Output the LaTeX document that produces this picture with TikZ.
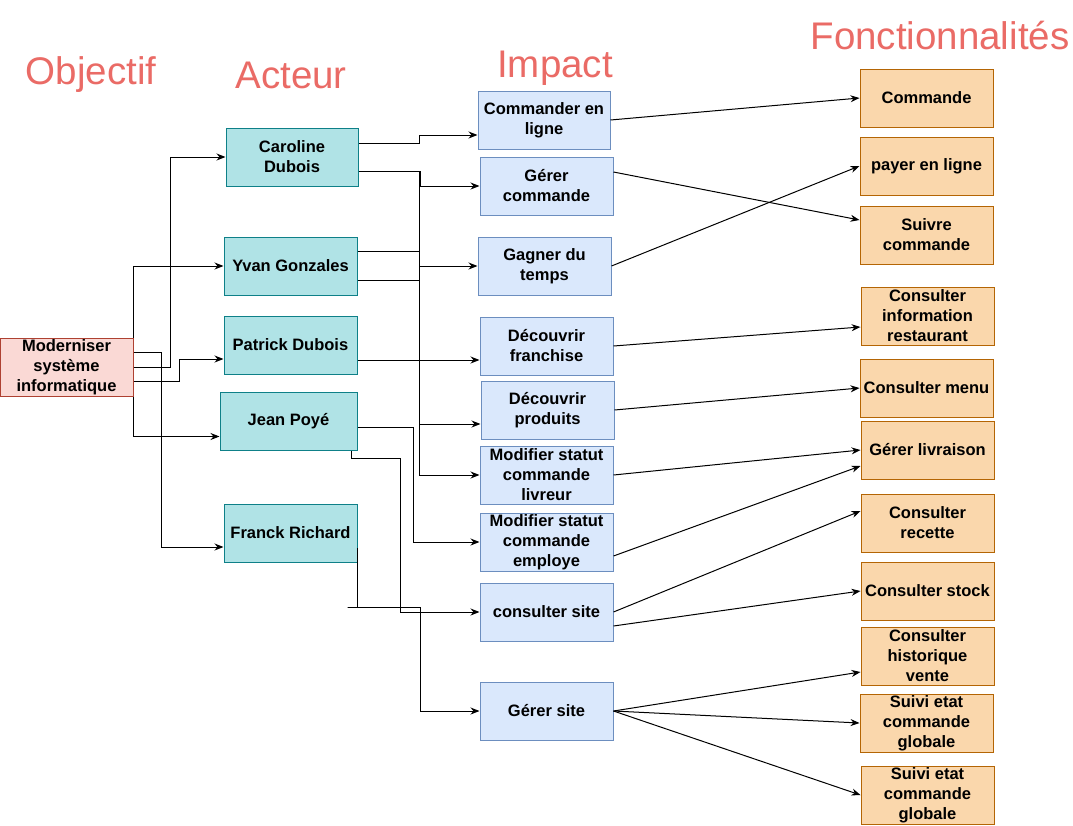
\documentclass[tikz,border=0pt]{standalone}
\usepackage{fontspec}
\setmainfont{Liberation Sans}
\usetikzlibrary{arrows.meta}

\definecolor{objfill}{HTML}{FAD9D5}
\definecolor{objline}{HTML}{AE4132}
\definecolor{actfill}{HTML}{B0E3E6}
\definecolor{actline}{HTML}{0E8088}
\definecolor{impfill}{HTML}{DAE8FC}
\definecolor{impline}{HTML}{6C8EBF}
\definecolor{fctfill}{HTML}{FAD7AC}
\definecolor{fctline}{HTML}{B46504}
\definecolor{titrered}{HTML}{EA6B66}

\tikzset{
  boite/.style={draw, line width=1pt, inner sep=0pt, align=center,
    minimum width=133pt, minimum height=58pt,
    font=\bfseries\fontsize{16.5}{20}\selectfont},
  objbox/.style={boite, fill=objfill, draw=objline},
  actbox/.style={boite, fill=actfill, draw=actline},
  impbox/.style={boite, fill=impfill, draw=impline},
  fctbox/.style={boite, fill=fctfill, draw=fctline},
  titre/.style={text=titrered, font=\fontsize{38.5}{44}\selectfont},
  lien/.style={->, line width=1pt}
}

\begin{document}
\begin{tikzpicture}[x=1pt, y=-1pt, >={Stealth[length=9pt,width=7pt]}]
  \useasboundingbox (0,0) rectangle (1073,825);

  % titres
  \node[titre] (tobj) at (91,75) {Objectif};
  \node[titre] (tact) at (291,75) {Acteur};
  \node[titre] (timp) at (555,68) {Impact};
  \node[titre] (tfct) at (940,36) {Fonctionnalités};

  % objectif
  \node[objbox] (obj) at (66.5,367) {Moderniser\\système\\informatique};

  % acteurs
  \node[actbox, minimum width=132pt] (caroline) at (292,157) {Caroline\\Dubois};
  \node[actbox] (yvan) at (290.5,266) {Yvan Gonzales};
  \node[actbox] (patrick) at (290.5,345) {Patrick Dubois};
  \node[actbox, minimum width=137pt] (jean) at (288.5,421.5) {Jean Poyé};
  \node[actbox] (franck) at (290.5,533) {Franck Richard};

  % impacts
  \node[impbox, minimum width=132pt] (cmdligne) at (544,120) {Commander en\\ligne};
  \node[impbox] (gerercmd) at (546.5,186) {Gérer\\commande};
  \node[impbox] (gagner) at (544.5,266) {Gagner du\\temps};
  \node[impbox] (franchise) at (546.5,346) {Découvrir\\franchise};
  \node[impbox] (produits) at (547.5,410) {Découvrir\\produits};
  \node[impbox] (livreur) at (546.5,475) {Modifier statut\\commande\\livreur};
  \node[impbox] (employe) at (546.5,542) {Modifier statut\\commande\\employe};
  \node[impbox] (consulter) at (546.5,612) {consulter site};
  \node[impbox] (gerersite) at (546.5,711) {Gérer site};

  % fonctionnalites
  \node[fctbox] (commande) at (926.5,98) {Commande};
  \node[fctbox] (payer) at (926.5,166) {payer en ligne};
  \node[fctbox] (suivre) at (926.5,235) {Suivre\\commande};
  \node[fctbox] (info) at (927.5,316) {Consulter\\information\\restaurant};
  \node[fctbox] (menu) at (926.5,388) {Consulter menu};
  \node[fctbox] (livraison) at (927.5,450) {Gérer livraison};
  \node[fctbox] (recette) at (927.5,523) {Consulter\\recette};
  \node[fctbox] (stock) at (927.5,591) {Consulter stock};
  \node[fctbox] (historique) at (927.5,656) {Consulter\\historique\\vente};
  \node[fctbox] (suivia) at (926.5,723) {Suivi etat\\commande\\globale};
  \node[fctbox] (suivib) at (927.5,795) {Suivi etat\\commande\\globale};

  % objectif -> acteurs
  \draw[lien] (obj.east) -- ++(37,0) |- (caroline.west);
  \draw[lien] (obj.north east) |- (yvan.west);
  \draw[lien] ([yshift=-14pt]obj.east) -- ++(46,0) |- ([yshift=-14pt]patrick.west);
  \draw[lien] (obj.south east) |- ([yshift=-15pt]jean.west);
  \draw[lien] ([yshift=15pt]obj.east) -- ++(28,0) |- ([yshift=-14pt]franck.west);

  % acteurs -> impacts
  \draw[lien] ([yshift=14pt]caroline.east) -- ++(61,0) |- ([yshift=-15pt]cmdligne.west);
  \draw[lien] ([yshift=-14pt]caroline.east) -- ++(62,0) |- (gerercmd.west);
  \draw[lien] ([yshift=-14pt]caroline.east) -- ++(61,0) |- ([yshift=-14pt]produits.west);
  \draw[lien] ([yshift=15pt]yvan.east) -- ++(62,0) |- (gagner.west);
  \draw[lien] ([yshift=-14pt]yvan.east) -- ++(62,0) |- (livreur.west);
  \draw[lien] ([yshift=-15pt]patrick.east) -- ([yshift=-14pt]franchise.west);
  \draw[lien] ([yshift=-5.5pt]jean.east) -- ++(56,0) |- (employe.west);
  \draw[lien] ([xshift=62.5pt]jean.south) -- ++(0,7) -- ++(49,0) |- (consulter.west);
  \draw[lien] ([yshift=-15pt]franck.east) -- ++(0,59) -- ++(-10,0) -- ++(73,0) |- (gerersite.west);

  % impacts -> fonctionnalites
  \draw[lien] (cmdligne.east) -- (commande.west);
  \draw[lien] ([yshift=14pt]gerercmd.east) -- ([yshift=15pt]suivre.west);
  \draw[lien] (gagner.east) -- (payer.west);
  \draw[lien] (franchise.east) -- ([yshift=-11pt]info.west);
  \draw[lien] (produits.east) -- (menu.west);
  \draw[lien] (livreur.east) -- (livraison.west);
  \draw[lien] ([yshift=-14pt]employe.east) -- ([yshift=-16pt]livraison.west);
  \draw[lien] (consulter.east) -- ([yshift=12pt]recette.west);
  \draw[lien] ([yshift=-14pt]consulter.east) -- (stock.west);
  \draw[lien] (gerersite.east) -- ([yshift=-16pt]historique.west);
  \draw[lien] (gerersite.east) -- (suivia.west);
  \draw[lien] (gerersite.east) -- (suivib.west);
\end{tikzpicture}
\end{document}
